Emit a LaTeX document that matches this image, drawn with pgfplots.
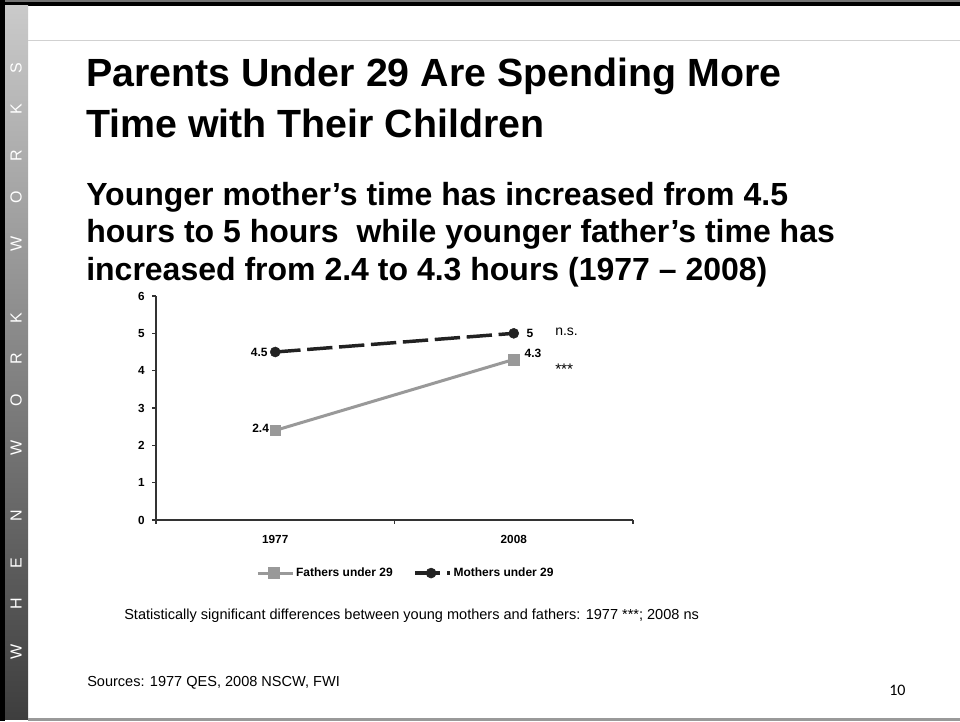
\documentclass[border=0pt]{standalone}
\usepackage{fontspec}
\setmainfont{Liberation Sans}
\newfontfamily\calibri{Carlito}
\usepackage{pgfplots}
\pgfplotsset{compat=1.18}
\definecolor{father}{HTML}{999999}
\definecolor{mother}{HTML}{222222}
\definecolor{barTop}{HTML}{CACACA}
\definecolor{barBot}{HTML}{3E3E3E}
\begin{document}
\begin{tikzpicture}[x=0.75pt,y=0.75pt]
% slide background and frame (units: 1 = one slide pixel, y upwards)
\fill[white] (0,0) rectangle (960,721);
\useasboundingbox (0,0) rectangle (960,721);
\fill[black!55] (0,719) rectangle (960,721);
\fill[black] (0,715) rectangle (960,719);
\fill[black] (0,0) rectangle (5,721);
\shade[top color=barTop, bottom color=barBot] (5,2) rectangle (28,715);
\fill[black!40] (28,0) rectangle (960,3);
\draw[black!18, line width=0.75pt] (28,680) -- (960,680);
% vertical brand letters
\foreach \l/\yy in {S/68,K/109,R/156,O/197,W/244,K/318,R/359,O/400,W/448,N/516,E/563,H/604,W/652}
  \node[rotate=90, text=white, font=\fontsize{12}{14}\selectfont, inner sep=0pt] at (16,721-\yy) {\l};
% title and subtitle
\begin{scope}[every node/.style={anchor=base west, inner sep=0pt}]
\node[font=\fontsize{29.5}{36}\selectfont\bfseries] at (86,721-87) {Parents Under 29 Are Spending More};
\node[font=\fontsize{29.5}{36}\selectfont\bfseries] at (86,721-138) {Time with Their Children};
\node[font=\fontsize{24}{28}\selectfont\bfseries] at (86,721-206) {Younger mother’s time has increased from 4.5};
\node[font=\fontsize{24}{28}\selectfont\bfseries] at (86,721-243) {hours to 5 hours\ \ while younger father’s time has};
\node[font=\fontsize{24}{28}\selectfont\bfseries] at (86,721-281) {increased from 2.4 to 4.3 hours (1977 – 2008)};
\node[font=\fontsize{10.9}{13}\selectfont] at (124,721-620) {Statistically significant differences between young mothers and fathers: 1977 ***; 2008 ns};
\node[font=\fontsize{10.9}{13}\selectfont] at (87,721-686) {Sources: 1977 QES, 2008 NSCW, FWI};
\node[font=\fontsize{12}{14}\selectfont\calibri] at (889,721-695) {10};
\end{scope}
% chart
\begin{axis}[
  at={(117pt,150.75pt)}, anchor=south west,
  width=357.75pt, height=168pt, scale only axis,
  xmin=0, xmax=2, ymin=0, ymax=6,
  clip=false,
  axis lines*=left,
  axis line style={draw=black!80, line width=1pt},
  xtick={0,1,2}, xticklabels={},
  extra x ticks={0.5,1.5}, extra x tick labels={1977,2008},
  extra x tick style={major tick length=0pt},
  ytick={0,1,2,3,4,5,6},
  tick align=outside, major tick length=3pt,
  tick style={draw=black!80, line width=0.8pt},
  /pgf/number format/assume math mode=true,
  ticklabel style={font=\fontsize{8.8}{10}\selectfont\bfseries},
  xticklabel style={yshift=-8pt},
  yticklabel style={xshift=-2pt},
  legend style={at={(0.524,-0.237)}, anchor=center, draw=none, fill=none,
    font=\fontsize{9}{10}\selectfont\bfseries, legend columns=2,
    /tikz/every even column/.append style={column sep=14pt},
    nodes={inner sep=1.5pt}},
  legend image code/.code={\draw[mark repeat=2,mark phase=2,#1]
    plot coordinates {(0pt,0pt) (12pt,0pt) (26pt,0pt)};},
]
\addplot[color=father, line width=2.25pt, mark=square*, mark size=4pt,
  mark options={solid, line width=0.4pt}] coordinates {(0.5,2.4) (1.5,4.3)};
\addplot[color=mother, line width=2.6pt, dash pattern=on 19pt off 5pt, mark=*, mark size=3.75pt,
  mark options={solid, line width=0.4pt}] coordinates {(0.5,4.5) (1.5,5)};
\legend{Fathers under 29, Mothers under 29}
% value labels and significance marks
\begin{scope}[every node/.style={font=\fontsize{9}{10}\selectfont\bfseries, inner sep=0pt}]
\node[anchor=east] at ([xshift=-5.5pt]axis cs:0.5,4.5) {4.5};
\node[anchor=east] at ([xshift=-4.5pt, yshift=1.5pt]axis cs:0.5,2.4) {2.4};
\node[anchor=west] at ([xshift=9.5pt]axis cs:1.5,5) {5};
\node[anchor=west] at ([xshift=8pt, yshift=4.5pt]axis cs:1.5,4.3) {4.3};
\end{scope}
\node[anchor=west, inner sep=0pt, font=\fontsize{10.5}{12}\selectfont] at (axis cs:1.673,5.03) {n.s.};
\node[anchor=west, inner sep=0pt, font=\fontsize{11.5}{12}\selectfont] at (axis cs:1.673,4.05) {***};
\end{axis}
\end{tikzpicture}
\end{document}
